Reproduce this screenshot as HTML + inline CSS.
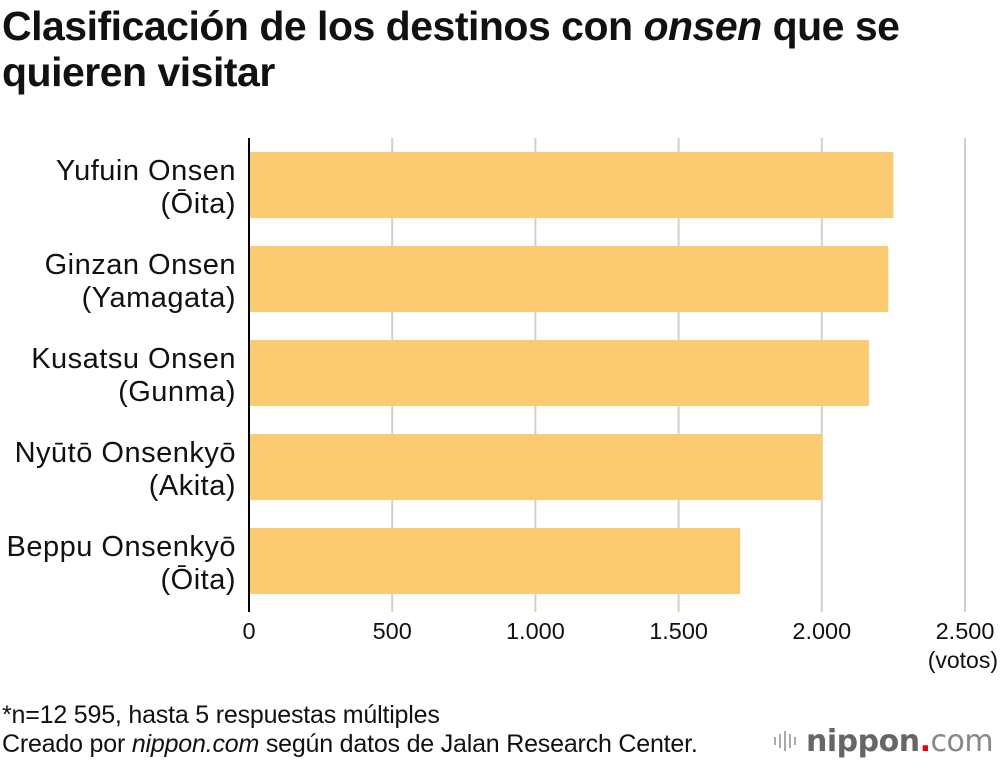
<!DOCTYPE html>
<html><head><meta charset="utf-8"><style>
body{margin:0;background:#fff;width:1000px;height:764px;overflow:hidden;font-family:"Liberation Sans",Arial,sans-serif;}
#title{position:absolute;left:2px;top:3px;font-size:41px;font-weight:bold;line-height:46px;color:#111;letter-spacing:-0.5px;white-space:nowrap;}
.note{position:absolute;left:2px;font-size:25px;color:#111;white-space:nowrap;letter-spacing:-0.2px;}
</style></head><body>
<div id="title">Clasificación de los destinos con <i>onsen</i> que se<br>quieren visitar</div>
<svg id="chart" width="1000" height="680" style="position:absolute;left:0;top:0"></svg>
<div class="note" style="top:701px">*n=12 595, hasta 5 respuestas múltiples</div>
<div class="note" style="top:730px">Creado por <i>nippon.com</i> según datos de Jalan Research Center.</div>
<div style="position:absolute;left:772px;top:723px;height:36px;display:flex;align-items:center">
<svg width="28" height="26"><g fill="#aaa"><rect x="2" y="9" width="2" height="8"/><rect x="7" y="6" width="2" height="14"/><rect x="12" y="3" width="2" height="20"/><rect x="17" y="6" width="2" height="14"/><rect x="22" y="9" width="2" height="8"/></g></svg>
<span style="font-family:'DejaVu Sans',sans-serif;font-size:30px;color:#666;font-weight:bold;margin-left:6px;letter-spacing:-0.5px">nippon<span style="color:#e60012">.</span><span style="font-weight:normal;color:#888">com</span></span>
</div>
<script>
const categories=[["Yufuin Onsen","(Ōita)"],["Ginzan Onsen","(Yamagata)"],["Kusatsu Onsen","(Gunma)"],["Nyūtō Onsenkyō","(Akita)"],["Beppu Onsenkyō","(Ōita)"]];
const values=[2250,2232,2165,2002,1715];
const ticks=[0,500,1000,1500,2000,2500];
const tickLabels=["0","500","1.000","1.500","2.000","2.500"];
const NS="http://www.w3.org/2000/svg";
const svg=document.getElementById('chart');
const x0=249,scale=0.2864;
const xs=v=>x0+v*scale;
const yTop=i=>152+i*94;
function mk(t,a){const e=document.createElementNS(NS,t);for(const k in a)e.setAttribute(k,a[k]);svg.appendChild(e);return e;}
ticks.forEach((t,i)=>{
 if(t>0){const g=mk('line',{x1:xs(t),x2:xs(t),y1:138,y2:612,stroke:'#d0d0d0','stroke-width':2});
 
 }
 const tx=mk('text',{x:xs(t),y:639,'text-anchor':'middle','font-size':23.5,fill:'#111'});
 tx.textContent=tickLabels[i];
 
 
});
const u=mk('text',{x:998,y:668,'text-anchor':'end','font-size':23,fill:'#111'});u.textContent='(votos)';


values.forEach((v,i)=>{
 const r=mk('rect',{x:x0,y:yTop(i),width:xs(v)-x0,height:66,fill:'#fbcb72'});
 
 
 categories[i].forEach((s,j)=>{
  const t=mk('text',{x:236,y:yTop(i)+28+j*33,'text-anchor':'end','font-size':29,fill:'#111','letter-spacing':'0.5'});
  t.textContent=s;
  
  
 });
});
const ax=mk('line',{x1:x0,x2:x0,y1:138,y2:612,stroke:'#000','stroke-width':2});


</script>
</body></html>
